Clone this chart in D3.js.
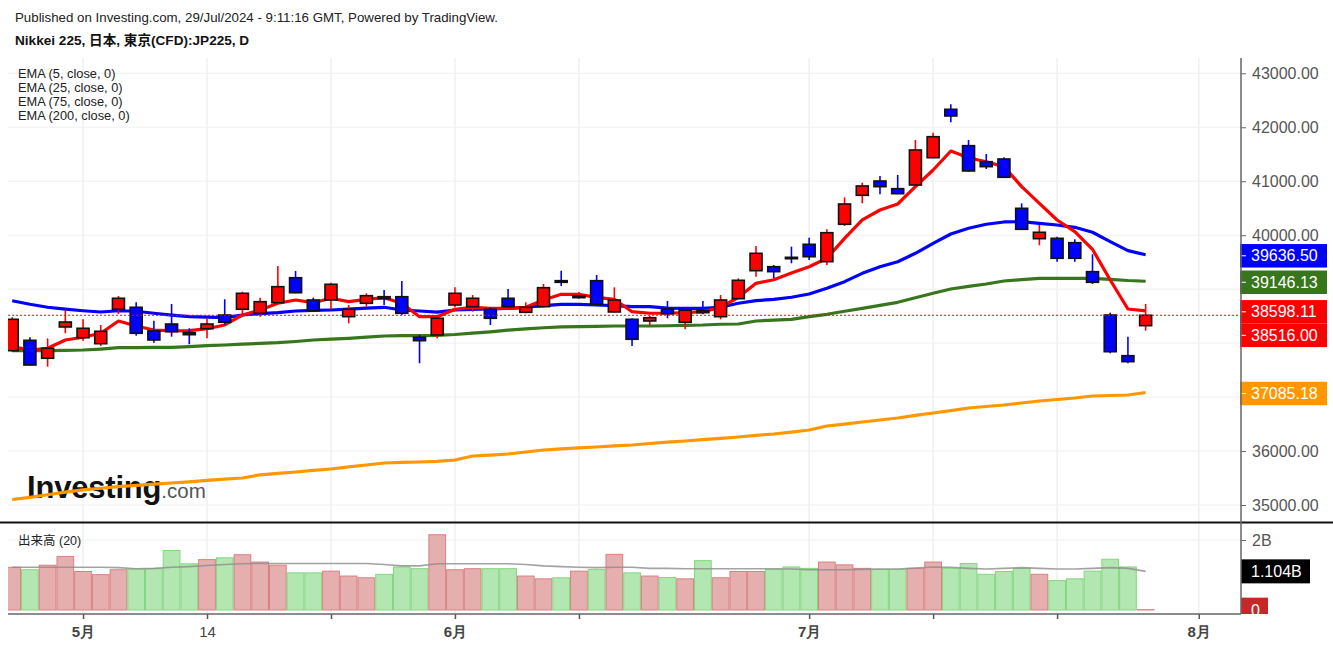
<!DOCTYPE html>
<html>
<head>
<meta charset="utf-8">
<script src="https://cdn.jsdelivr.net/npm/d3@7"></script>
<style>
body { margin: 0; background: #fff; }
svg { display: block; font-family: "Liberation Sans", Arial, "Noto Sans CJK JP", sans-serif; }
</style>
</head>
<body>
<svg id="chart" width="1333" height="649"></svg>
<script>
// trading days (JP holidays skipped)
const dates = [
  "2024-04-24","2024-04-25","2024-04-26","2024-04-30","2024-05-01","2024-05-02","2024-05-07","2024-05-08","2024-05-09","2024-05-10",
  "2024-05-13","2024-05-14","2024-05-15","2024-05-16","2024-05-17","2024-05-20","2024-05-21","2024-05-22","2024-05-23","2024-05-24",
  "2024-05-27","2024-05-28","2024-05-29","2024-05-30","2024-05-31","2024-06-03","2024-06-04","2024-06-05","2024-06-06","2024-06-07",
  "2024-06-10","2024-06-11","2024-06-12","2024-06-13","2024-06-14","2024-06-17","2024-06-18","2024-06-19","2024-06-20","2024-06-21",
  "2024-06-24","2024-06-25","2024-06-26","2024-06-27","2024-06-28","2024-07-01","2024-07-02","2024-07-03","2024-07-04","2024-07-05",
  "2024-07-08","2024-07-09","2024-07-10","2024-07-11","2024-07-12","2024-07-16","2024-07-17","2024-07-18","2024-07-19","2024-07-22",
  "2024-07-23","2024-07-24","2024-07-25","2024-07-26","2024-07-29"
];
const futureDates = ["2024-07-30","2024-07-31","2024-08-01","2024-08-02","2024-08-05"];

const open = [37860,38052,37719,38299,38100,37989,38627,38664,38225,38354,
  38193,38267,38521,38627,38553,38749,39212,38799,38799,38490,
  38738,38860,38860,38108,38150,38706,38675,38627,38831,38571,
  38675,39157,38842,39157,38577,38441,38410,38632,38386,38601,
  38490,38823,39342,39416,39590,39831,39509,40202,40739,41004,
  40862,40930,41436,42333,41659,41362,41412,40498,39935,39942,
  39861,39324,38521,37767,38323];
const high = [38480,38108,38089,38614,38441,38336,38873,38756,38416,38725,
  38275,38460,38812,38953,38842,39429,39337,38842,39120,38706,
  38923,38984,39151,38150,38521,39034,38892,38664,39003,38756,
  39096,39342,38947,39262,39034,38460,38503,38781,38627,38781,
  38892,39201,39800,39448,39787,39954,40109,40702,40973,41097,
  41116,41764,41900,42426,41764,41505,41443,40591,40189,39973,
  39924,39646,38564,38119,38725];
const low = [37840,37590,37563,38182,38045,37947,38540,38138,38008,38119,
  37978,38089,38341,38540,38490,38738,38923,38582,38627,38367,
  38675,38706,38521,37626,38089,38664,38582,38336,38664,38553,
  38664,39058,38823,38706,38564,37947,38336,38460,38256,38534,
  38441,38812,39231,39201,39479,39540,39448,40170,40591,40758,
  40760,40920,41425,42092,41180,41227,41060,40096,39813,39509,
  39509,39096,37811,37626,38230];
const close = [38441,37594,37904,38391,38275,38219,38831,38182,38058,38212,
  38156,38354,38386,38923,38768,39046,38934,38601,39090,38627,
  38879,38823,38553,38045,38460,38923,38831,38460,38675,38664,
  39027,39127,38873,38719,38799,38071,38471,38545,38608,38564,
  38799,39164,39664,39324,39564,39601,40046,40578,40912,40899,
  40769,41579,41825,42209,41190,41270,41073,40109,40054,39572,
  39572,39127,37841,37656,38516];

// volume in billions, and its 20-bar average
const volume = [1.22,1.15,1.28,1.53,1.10,1.01,1.15,1.17,1.18,1.70,
  1.32,1.44,1.49,1.58,1.37,1.28,1.06,1.06,1.11,0.97,
  0.92,1.02,1.23,1.18,2.15,1.15,1.18,1.18,1.18,0.97,
  0.89,0.92,1.11,1.16,1.59,1.06,0.97,0.93,0.89,1.41,
  0.92,1.10,1.10,1.16,1.23,1.19,1.37,1.29,1.19,1.16,
  1.16,1.19,1.37,1.19,1.33,1.02,1.10,1.19,1.02,0.84,
  0.89,1.11,1.45,1.23,0.01];
const volumeMA = [1.22,1.22,1.22,1.22,1.22,1.22,1.21,1.18,1.19,1.22,
  1.24,1.27,1.30,1.32,1.33,1.33,1.33,1.33,1.33,1.33,
  1.33,1.30,1.26,1.26,1.32,1.32,1.32,1.32,1.32,1.30,
  1.26,1.24,1.22,1.21,1.22,1.22,1.19,1.19,1.18,1.18,
  1.18,1.18,1.18,1.18,1.17,1.15,1.15,1.15,1.16,1.17,
  1.17,1.20,1.23,1.22,1.19,1.17,1.19,1.21,1.19,1.17,
  1.17,1.19,1.21,1.19,1.104];

const ema5 = [37934,37872,37904,38058,38108,38182,38410,38317,38243,38225,
  38231,38267,38336,38521,38614,38738,38799,38749,38831,38768,
  38812,38842,38738,38490,38490,38627,38664,38645,38645,38664,
  38799,38904,38904,38849,38812,38582,38553,38553,38564,38582,
  38660,38850,39108,39175,39300,39416,39572,39942,40282,40467,
  40578,40899,41208,41560,41436,41362,41270,40899,40591,40282,
  40065,39739,39170,38632,38598.11];
const ema25 = [38786,38720,38664,38630,38600,38577,38600,38590,38553,38520,
  38490,38480,38471,38521,38545,38564,38595,38605,38614,38630,
  38650,38664,38614,38595,38575,38614,38627,38633,38645,38664,
  38694,38719,38719,38706,38694,38675,38675,38650,38645,38645,
  38664,38738,38786,38812,38850,38910,39016,39139,39293,39416,
  39509,39664,39849,40022,40128,40202,40245,40250,40220,40189,
  40146,40054,39880,39713,39636.50];
const ema75 = [37860,37860,37860,37866,37872,37890,37915,37918,37920,37922,
  37935,37952,37965,37980,37995,38008,38030,38058,38075,38089,
  38110,38132,38140,38140,38145,38160,38185,38210,38240,38265,
  38285,38300,38304,38310,38317,38317,38317,38322,38330,38336,
  38350,38354,38410,38425,38441,38490,38534,38590,38645,38700,
  38756,38840,38923,39003,39050,39096,39151,39176,39201,39201,
  39201,39201,39182,39160,39146.13];
const ema200 = [35102,35140,35190,35240,35280,35311,35340,35365,35388,35408,
  35430,35455,35478,35500,35560,35585,35612,35640,35667,35705,
  35741,35778,35790,35797,35810,35834,35908,35925,35945,35982,
  36019,36040,36060,36075,36095,36112,36140,36165,36186,36210,
  36235,36260,36290,36316,36350,36390,36464,36500,36538,36575,
  36612,36660,36705,36750,36798,36825,36853,36890,36927,36955,
  36983,37020,37029,37038,37085.18];

const priceTicks = [35000,36000,37000,38000,39000,40000,41000,42000,43000];
const tickDates = ["2024-05-01","2024-05-14","2024-05-23","2024-06-03","2024-06-12","2024-07-01","2024-07-10","2024-07-22","2024-08-01"];
const tickLabels = ["5月","14","","6月","","7月","","","8月"];
const legendLabels = ["EMA (5, close, 0)","EMA (25, close, 0)","EMA (75, close, 0)","EMA (200, close, 0)"];

const lastClose = close[close.length - 1];

// layout
const left = 8, right = 1241;
const priceTop = 58, priceBottom = 522;
const volTop = 524, volBottom = 614;

const svg = d3.select("#chart");

const x = d3.scalePoint().domain(dates.concat(futureDates)).range([12.2, 12.2 + 69 * 17.71]);
const step = x.step();
const y = d3.scaleLinear().domain([35000, 43000]).range([505, 73.3]);
const yv = d3.scaleLinear().domain([0, 2]).range([610, 540]);

const colors = { up: "#ff0000", down: "#0000ff", ema75: "#38761d", ema200: "#ff9800" };

const defs = svg.append("defs");
defs.append("clipPath").attr("id", "priceClip")
  .append("rect").attr("x", left).attr("y", priceTop).attr("width", right - left).attr("height", priceBottom - priceTop);
defs.append("clipPath").attr("id", "volClip")
  .append("rect").attr("x", left).attr("y", volTop).attr("width", right - left).attr("height", volBottom - volTop - 1);
defs.append("clipPath").attr("id", "volAxisClip")
  .append("rect").attr("x", right).attr("y", volTop).attr("width", 100).attr("height", volBottom - volTop);

// header
svg.append("text").attr("x", 15).attr("y", 22).attr("font-size", 13.3).attr("fill", "#222")
  .text("Published on Investing.com, 29/Jul/2024 - 9:11:16 GMT, Powered by TradingView.");
svg.append("text").attr("x", 15).attr("y", 45).attr("font-size", 13.6).attr("font-weight", "bold").attr("fill", "#111")
  .text("Nikkei 225, 日本, 東京(CFD):JP225, D");

// grid
const grid = svg.append("g");
grid.selectAll(".hg").data(priceTicks).join("line")
  .attr("x1", left).attr("x2", right).attr("y1", d => y(d)).attr("y2", d => y(d))
  .attr("stroke", "#f0f0f0").attr("stroke-width", 1);
grid.selectAll(".vg").data(tickDates).join("line")
  .attr("x1", d => x(d)).attr("x2", d => x(d)).attr("y1", priceTop).attr("y2", volBottom)
  .attr("stroke", "#f0f0f0").attr("stroke-width", 1.5);
grid.append("line").attr("x1", left).attr("x2", right).attr("y1", yv(2)).attr("y2", yv(2))
  .attr("stroke", "#f0f0f0");

// legend
svg.append("g").selectAll("text").data(legendLabels).join("text")
  .attr("x", 18).attr("y", (d, i) => 78 + i * 14)
  .attr("font-size", 12.8).attr("fill", "#222").text(d => d);

// investing logo
const logo = svg.append("text").attr("x", 27).attr("y", 498);
logo.append("tspan").attr("font-size", 31).attr("font-weight", "bold").attr("fill", "#111")
  .attr("letter-spacing", -0.2).text("Investing");
logo.append("tspan").attr("font-size", 20.5).attr("fill", "#555").text(".com");

// EMA lines
const plot = svg.append("g").attr("clip-path", "url(#priceClip)");
const line = d3.line().x((d, i) => x(dates[i])).y(d => y(d));
[[ema200, colors.ema200], [ema75, colors.ema75], [ema25, colors.down], [ema5, colors.up]].forEach(([s, c]) => {
  plot.append("path").datum(s).attr("d", line)
    .attr("fill", "none").attr("stroke", c).attr("stroke-width", 3.2)
    .attr("stroke-linejoin", "round");
});

// candles
const candles = dates.map((d, i) => ({ date: d, o: open[i], h: high[i], l: low[i], c: close[i] }));
const bodyW = 12;
const cg = plot.append("g");
cg.selectAll(".wick").data(candles).join("line")
  .attr("x1", d => x(d.date)).attr("x2", d => x(d.date))
  .attr("y1", d => y(d.h)).attr("y2", d => y(d.l))
  .attr("stroke", d => d.c >= d.o ? colors.up : colors.down).attr("stroke-width", 1.6);
cg.selectAll(".body").data(candles).join("rect")
  .attr("x", d => x(d.date) - bodyW / 2)
  .attr("y", d => y(Math.max(d.o, d.c)))
  .attr("width", bodyW)
  .attr("height", d => Math.max(1, Math.abs(y(d.o) - y(d.c))))
  .attr("fill", d => d.c >= d.o ? colors.up : colors.down)
  .attr("stroke", "#111").attr("stroke-width", 1.6);

// last price line
plot.append("line").attr("x1", left).attr("x2", right).attr("y1", y(lastClose)).attr("y2", y(lastClose))
  .attr("stroke", "#ff0000").attr("stroke-width", 1).attr("stroke-dasharray", "2,2");

// pane separator
svg.append("line").attr("x1", 0).attr("x2", 1333).attr("y1", 522.5).attr("y2", 522.5)
  .attr("stroke", "#111").attr("stroke-width", 2);

// volume
const vg = svg.append("g").attr("clip-path", "url(#volClip)");
vg.selectAll("rect").data(candles).join("rect")
  .attr("x", d => x(d.date) - step / 2 + 0.5)
  .attr("y", (d, i) => yv(volume[i]))
  .attr("width", step - 1)
  .attr("height", (d, i) => yv(0) - yv(volume[i]))
  .attr("fill", d => d.c >= d.o ? "#e6afaf" : "#b3e7b1")
  .attr("stroke", d => d.c >= d.o ? "#d98080" : "#82d67e").attr("stroke-width", 1);
vg.append("path").datum(volumeMA)
  .attr("d", d3.line().x((d, i) => x(dates[i])).y(d => yv(d)))
  .attr("fill", "none").attr("stroke", "#8c8c8c").attr("stroke-opacity", 0.8).attr("stroke-width", 1.6);

svg.append("text").attr("x", 18).attr("y", 545).attr("font-size", 12.5).attr("fill", "#222").text("出来高 (20)");

// value labels on the axis (placed first so covered tick texts can be dropped)
const labels = [
  { v: ema25[ema25.length - 1], c: colors.down },
  { v: ema75[ema75.length - 1], c: colors.ema75 },
  { v: ema5[ema5.length - 1], c: colors.up },
  { v: lastClose, c: colors.up },
  { v: ema200[ema200.length - 1], c: colors.ema200 }
].map(d => ({ ...d, py: y(d.v) }));
labels.sort((a, b) => a.py - b.py);
const boxH = 23.5;
labels.forEach((d, i) => { if (i > 0 && d.py < labels[i - 1].py + boxH) d.py = labels[i - 1].py + boxH; });
const covered = v => labels.some(l => Math.abs(y(v) - (l.py + 1)) < boxH / 2 + 8);

// right price axis
const yAxis = svg.append("g").attr("transform", `translate(${right},0)`)
  .call(d3.axisRight(y).tickValues(priceTicks)
    .tickFormat(d => covered(d) ? "" : d3.format(".2f")(d)).tickSize(5).tickPadding(6));
yAxis.select(".domain").remove();
yAxis.selectAll("text").attr("font-size", 16).attr("fill", "#555").attr("font-family", null);
yAxis.selectAll("line").attr("stroke", "#666");

const lg = svg.append("g");
lg.selectAll("rect").data(labels).join("rect")
  .attr("x", right - 1).attr("y", d => d.py - boxH / 2 + 1).attr("width", 87).attr("height", boxH)
  .attr("fill", d => d.c);
lg.selectAll("text").data(labels).join("text")
  .attr("x", right + 10).attr("y", d => d.py + 1).attr("dy", "0.35em")
  .attr("font-size", 16).attr("fill", "#fff").text(d => d3.format(".2f")(d.v));
lg.selectAll("line").data(labels).join("line")
  .attr("x1", right).attr("x2", right + 5).attr("y1", d => d.py + 1).attr("y2", d => d.py + 1)
  .attr("stroke", "#fff");

// volume axis
const vAxis = svg.append("g").attr("transform", `translate(${right},0)`)
  .call(d3.axisRight(yv).tickValues([2]).tickFormat(d => d + "B").tickSize(5).tickPadding(6));
vAxis.select(".domain").remove();
vAxis.selectAll("text").attr("font-size", 16).attr("fill", "#555").attr("font-family", null);
vAxis.selectAll("line").attr("stroke", "#666");

const va = svg.append("g").attr("clip-path", "url(#volAxisClip)");
const lastMA = volumeMA[volumeMA.length - 1];
va.append("rect").attr("x", right - 1).attr("y", yv(lastMA) - 12).attr("width", 70).attr("height", 24).attr("fill", "#000");
va.append("text").attr("x", right + 10).attr("y", yv(lastMA)).attr("dy", "0.35em")
  .attr("font-size", 16).attr("fill", "#fff").text(d3.format(".3f")(lastMA) + "B");
const lastVol = volume[volume.length - 1];
va.append("rect").attr("x", right - 1).attr("y", yv(lastVol) - 12).attr("width", 28).attr("height", 24).attr("fill", "#c62828");
va.append("text").attr("x", right + 10).attr("y", yv(lastVol) + 1).attr("dy", "0.35em")
  .attr("font-size", 16).attr("fill", "#fff").text("0");

// axis lines
svg.append("line").attr("x1", right).attr("x2", right).attr("y1", priceTop).attr("y2", volBottom)
  .attr("stroke", "#666").attr("stroke-width", 1.5);

// bottom time axis
const xAxis = svg.append("g").attr("transform", `translate(0,${volBottom})`)
  .call(d3.axisBottom(x).tickValues(tickDates).tickFormat((d, i) => tickLabels[i]).tickSize(5).tickPadding(7));
xAxis.select(".domain").remove();
xAxis.selectAll("line").attr("stroke", "#555").attr("stroke-width", 1.5);
xAxis.selectAll("text").attr("font-size", 15).attr("fill", "#444").attr("font-family", null)
  .attr("font-weight", d => tickLabels[tickDates.indexOf(d)].includes("月") ? "bold" : "normal");
svg.append("line").attr("x1", left).attr("x2", right).attr("y1", volBottom).attr("y2", volBottom)
  .attr("stroke", "#666").attr("stroke-width", 1.5);
</script>
</body>
</html>
